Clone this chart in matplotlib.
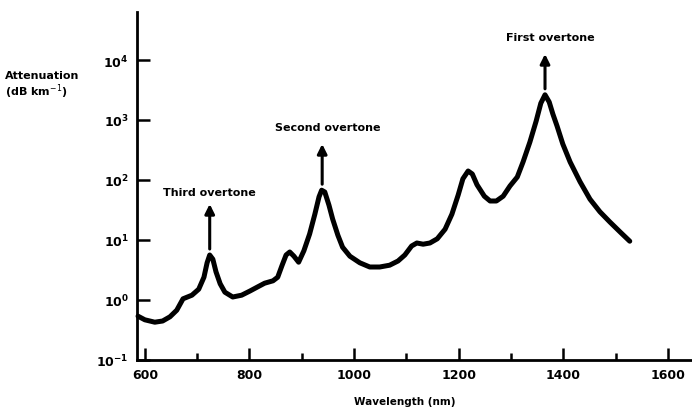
import matplotlib
matplotlib.use("Agg")
import matplotlib.pyplot as plt
from matplotlib.ticker import FixedLocator, MultipleLocator

# Wavelength (nm) and attenuation (log10 dB/km)
wavelength = [587, 600, 619, 634, 648, 661, 673, 690, 703, 713, 719, 724, 730,
              736, 744, 753, 768, 785, 801, 816, 829, 845, 854, 862, 870, 877,
              885, 894, 904, 915, 925, 933, 938, 944, 952, 959, 969, 978, 992,
              1011, 1030, 1049, 1068, 1084, 1097, 1110, 1120, 1132, 1145, 1159,
              1174, 1187, 1199, 1208, 1218, 1226, 1235, 1249, 1260, 1272, 1285,
              1298, 1312, 1323, 1336, 1348, 1357, 1365, 1373, 1380, 1388, 1399,
              1413, 1432, 1451, 1470, 1489, 1509, 1527]
log_atten = [-0.27, -0.33, -0.37, -0.35, -0.28, -0.17, 0.02, 0.08, 0.18, 0.38,
             0.62, 0.75, 0.68, 0.47, 0.27, 0.13, 0.05, 0.08, 0.15, 0.22, 0.28,
             0.32, 0.38, 0.57, 0.75, 0.80, 0.73, 0.63, 0.82, 1.10, 1.43, 1.72,
             1.83, 1.80, 1.58, 1.35, 1.08, 0.88, 0.73, 0.62, 0.55, 0.55, 0.58,
             0.65, 0.75, 0.90, 0.95, 0.93, 0.95, 1.02, 1.18, 1.43, 1.75, 2.02,
             2.15, 2.10, 1.92, 1.73, 1.65, 1.65, 1.73, 1.90, 2.05, 2.30, 2.63,
             2.98, 3.28, 3.42, 3.30, 3.10, 2.90, 2.60, 2.30, 1.97, 1.68, 1.47,
             1.30, 1.13, 0.98]
attenuation = [10 ** v for v in log_atten]

peak_labels = ["Third overtone", "Second overtone", "First overtone"]
peak_wl = [724, 939, 1365]
arrow_base = [10 ** 0.85, 10 ** 1.93, 10 ** 3.52]
arrow_tip = [10 ** 1.60, 10 ** 2.60, 10 ** 4.10]
label_y = [10 ** 1.72, 10 ** 2.80, 10 ** 4.30]
label_x = [724, 950, 1375]

x_ticks = [600, 800, 1000, 1200, 1400, 1600]
y_ticks = [1e-1, 1e0, 1e1, 1e2, 1e3, 1e4]
y_ticklabels = [r"$\mathbf{10^{-1}}$", r"$\mathbf{10^{0}}$", r"$\mathbf{10^{1}}$",
                r"$\mathbf{10^{2}}$", r"$\mathbf{10^{3}}$", r"$\mathbf{10^{4}}$"]

plt.rcParams['font.family'] = ['DejaVu Sans']
plt.rcParams['mathtext.fontset'] = 'dejavusans'

fig = plt.figure(figsize=(6.92, 4.10), dpi=100)
ax = fig.add_axes([137 / 692, 1 - 361 / 410, 555 / 692, 348 / 410])

ax.plot(wavelength, attenuation, color='black', lw=3.6,
        solid_joinstyle='round', solid_capstyle='round', clip_on=False)
ax.set_yscale('log')
ax.set_xlim(585, 1646)
ax.set_ylim(1e-1, 10 ** 4.8)

for lab, wl, b, t, ly, lx in zip(peak_labels, peak_wl, arrow_base, arrow_tip,
                                 label_y, label_x):
    ax.annotate('', xy=(wl, t), xytext=(wl, b),
                arrowprops=dict(arrowstyle='-|>', color='black', lw=2.2,
                                mutation_scale=14, shrinkA=0, shrinkB=0))
    ax.text(lx, ly, lab, ha='center', va='bottom', fontsize=8,
            fontweight='bold', color='black')

for s in ['top', 'right']:
    ax.spines[s].set_visible(False)
for s in ['left', 'bottom']:
    ax.spines[s].set_linewidth(2.0)

ax.xaxis.set_major_locator(FixedLocator(x_ticks))
ax.xaxis.set_minor_locator(MultipleLocator(100))
ax.set_xticklabels([str(v) for v in x_ticks], fontsize=9, fontweight='bold')
ax.yaxis.set_major_locator(FixedLocator(y_ticks))
ax.yaxis.set_minor_locator(FixedLocator([]))
ax.set_yticklabels(y_ticklabels, fontsize=9)

ax.tick_params(axis='x', which='major', direction='in', length=9, width=1.8, pad=6)
ax.tick_params(axis='x', which='minor', direction='in', length=5, width=1.8)
ax.tick_params(axis='y', which='major', direction='in', length=9, width=1.8, pad=6)

fig.text(5 / 692, 1 - 86 / 410, "Attenuation\n(dB km$^{-1}$)", fontsize=8,
         fontweight='bold', ha='left', va='center', linespacing=1.1)
fig.text(405 / 692, 1 - 402 / 410, "Wavelength (nm)", fontsize=7.5,
         fontweight='bold', ha='center', va='center')

fig.savefig('out.png', dpi=100, facecolor='white')
